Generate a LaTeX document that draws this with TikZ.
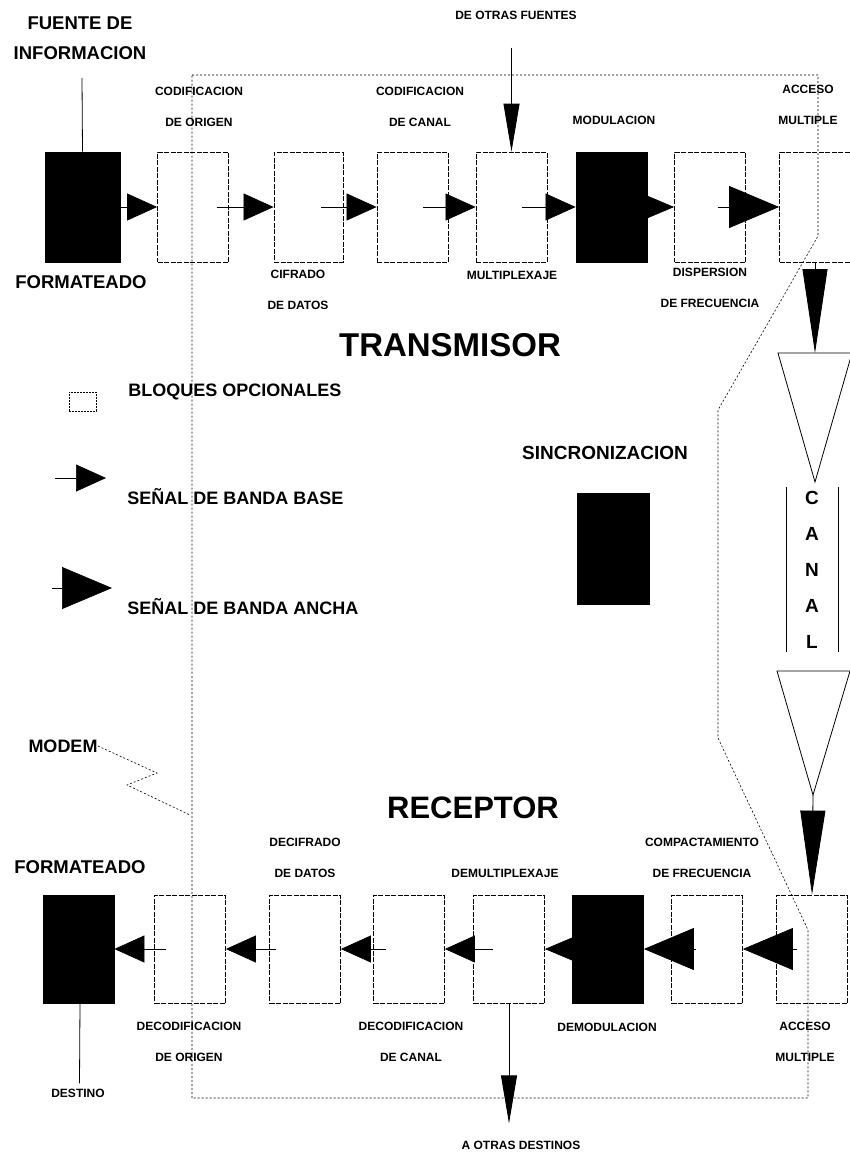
\documentclass[tikz,border=0pt]{standalone}
\usepackage{fontspec}
\setmainfont{Liberation Sans}
\usetikzlibrary{arrows.meta, positioning, calc}
\tikzset{
    blkbox/.style={rectangle, draw=black, fill=black, minimum width=71pt, minimum height=110pt, inner sep=0pt},
    optbox/.style={rectangle, draw=black, line width=0.8pt, dash pattern=on 5pt off 1.5pt, minimum width=71pt, minimum height=110pt, inner sep=0pt},
    small/.style={font=\bfseries\fontsize{12}{31}\selectfont, align=center, inner sep=0pt},
    large/.style={font=\bfseries\fontsize{18.5}{30}\selectfont, align=center, inner sep=0pt},
    title/.style={font=\bfseries\fontsize{33}{36}\selectfont, inner sep=0pt},
    bband/.style={line width=0.7pt, -{Triangle[length=30pt,width=27pt]}},
    wband/.style={line width=0.7pt, -{Triangle[length=50pt,width=42pt]}},
    nband/.style={line width=0.8pt, -{Triangle[length=48pt,width=16pt]}},
    cband/.style={line width=0.8pt, -{Triangle[length=84pt,width=25pt]}},
    mdmline/.style={line width=0.6pt, dash pattern=on 2pt off 2pt}
}
\begin{document}
\begin{tikzpicture}[x=1pt, y=-1pt, line width=0.8pt]
        \useasboundingbox[fill=white] (0,0) rectangle (850,1154);

        % Modem boundary
        \draw[mdmline] (192,75) -- (818,75) -- (818,236) -- (718,410) -- (718,738) -- (808,930) -- (808,1098) -- (192,1098) -- cycle;

        % Transmitter blocks
        \node (fmtt) at (82.5,207) [blkbox, minimum width=75pt] {};
        \node (codo) at (193,207) [optbox] {};
        \node (cif) at (308.5,207) [optbox, minimum width=69pt] {};
        \node (codc) at (412.5,207) [optbox] {};
        \node (mux) at (511.5,207) [optbox] {};
        \node (mod) at (611.5,207) [blkbox] {};
        \node (disp) at (710,207) [optbox] {};
        \node (amt) at (815,207) [optbox] {};

        % Receiver blocks
        \node (fmtr) at (78.5,949) [blkbox, minimum height=108pt] {};
        \node (dcodo) at (190,949) [optbox, minimum height=108pt] {};
        \node (dcif) at (305,949) [optbox, minimum height=108pt] {};
        \node (dcodc) at (409,949) [optbox, minimum height=108pt] {};
        \node (dmux) at (509,949) [optbox, minimum height=108pt] {};
        \node (dmod) at (608,949) [blkbox, minimum height=108pt] {};
        \node (comp) at (707,949) [optbox, minimum height=108pt] {};
        \node (amr) at (812,949) [optbox, minimum height=108pt] {};

        % Sync
        \node (sync) at (605,453) [font=\bfseries\fontsize{19}{22}\selectfont, inner sep=0pt] {SINCRONIZACION};
        \node (syncbox) at (613,548.5) [blkbox, minimum width=72pt, minimum height=111pt] {};

        % Labels, transmitter
        \node (src) at (80,38) [large] {FUENTE DE\\INFORMACION};
        \node (fmttl) at (81,282) [large] {FORMATEADO};
        \node (lcodo) at (199,106.5) [small] {CODIFICACION\\DE ORIGEN};
        \node (lcif) at (298,290) [small] {CIFRADO\\DE DATOS};
        \node (lcodc) at (420,106.5) [small] {CODIFICACION\\DE CANAL};
        \node (lmux) at (512,275) [small] {MULTIPLEXAJE};
        \node (lmod) at (614,120) [small] {MODULACION};
        \node (ldisp) at (710,288) [small] {DISPERSION\\DE FRECUENCIA};
        \node (lamt) at (808,105) [small] {ACCESO\\MULTIPLE};
        \node (othsrc) at (516,15) [small] {DE OTRAS FUENTES};
        \node (tx) at (450,345) [title] {TRANSMISOR};

        % Labels, receiver
        \node (rx) at (473,808) [title, font=\bfseries\fontsize{31}{34}\selectfont] {RECEPTOR};
        \node (fmtrl) at (80,867) [large] {FORMATEADO};
        \node (ldcif) at (305,857.5) [small] {DECIFRADO\\DE DATOS};
        \node (ldmux) at (505,873) [small] {DEMULTIPLEXAJE};
        \node (lcomp) at (702,857.5) [small] {COMPACTAMIENTO\\DE FRECUENCIA};
        \node (ldcodo) at (189,1041.5) [small] {DECODIFICACION\\DE ORIGEN};
        \node (ldcodc) at (411,1041.5) [small] {DECODIFICACION\\DE CANAL};
        \node (ldmod) at (607,1027) [small] {DEMODULACION};
        \node (lamr) at (805,1041.5) [small] {ACCESO\\MULTIPLE};
        \node (dest) at (78,1093) [small] {DESTINO};
        \node (othdst) at (521,1145) [small] {A OTRAS DESTINOS};

        % Legend
        \node (legbox) at (82.5,401.5) [draw, dash pattern=on 2pt off 1pt, minimum width=27pt, minimum height=19pt, inner sep=0pt] {};
        \node (legopt) at (128,392) [anchor=west, font=\bfseries\fontsize{18}{20}\selectfont, inner sep=0pt] {BLOQUES OPCIONALES};
        \node (legbb) at (127,497) [anchor=west, font=\bfseries\fontsize{18}{20}\selectfont, inner sep=0pt] {SEÑAL DE BANDA BASE};
        \node (legwb) at (127,607) [anchor=west, font=\bfseries\fontsize{18}{20}\selectfont, inner sep=0pt] {SEÑAL DE BANDA ANCHA};
        \coordinate (lgbb1) at (55,478);
        \coordinate (lgbb2) at (106,478);
        \coordinate (lgwb1) at (52,588);
        \coordinate (lgwb2) at (112,588);
        \draw[bband] (lgbb1) -- (lgbb2);
        \draw[wband] (lgwb1) -- (lgwb2);

        % Modem
        \node (modem) at (63,746) [font=\bfseries\fontsize{18}{20}\selectfont, inner sep=0pt] {MODEM};
        \draw[mdmline] (modem.east) -- (157,773) -- (127,785) -- (190,815);

        % Channel
        \coordinate (chin) at (815,353);
        \coordinate (chout) at (813,795);
        \draw (778,353) -- (852,353) -- (chin |- 0,482) -- cycle;
        \draw (777,671) -- (850,671) -- (chout) -- cycle;
        \draw (786,487) -- (786,652);
        \draw (838,487) -- (838,652);
        \node (canal) at (812,570) [align=center, font=\bfseries\fontsize{19}{36}\selectfont, inner sep=0pt] {C\\A\\N\\A\\L};
        \draw[cband] (amt.south) -- (chin);
        \draw[cband] (chout) -- (amr.north);

        % Transmitter signal flow
        \draw (src.south) ++(2,18) -- (fmtt.north);
        \draw[bband] (fmtt.east) -- (codo.west);
        \draw[bband] ([xshift=-12pt]codo.east) -- (cif.west);
        \draw[bband] ([xshift=-22pt]cif.east) -- (codc.west);
        \draw[bband] ([xshift=-25pt]codc.east) -- (mux.west);
        \draw[bband] ([xshift=-25pt]mux.east) -- (mod.west);
        \draw[wband] ([xshift=-30pt]mod.east) -- (disp.west);
        \draw[wband] ([xshift=-28pt]disp.east) -- (amt.west);
        \draw[nband, shorten <=28pt] (othsrc.south -| mux.north) -- (mux.north);

        % Receiver signal flow
        \draw[wband] ([xshift=21pt]amr.west) -- (comp.east);
        \draw[wband] ([xshift=25pt]comp.west) -- (dmod.east);
        \draw[wband] ([xshift=30pt]dmod.west) -- (dmux.east);
        \draw[bband] ([xshift=20pt]dmux.west) -- (dcodc.east);
        \draw[bband] ([xshift=13pt]dcodc.west) -- (dcif.east);
        \draw[bband] ([xshift=7pt]dcif.west) -- (dcodo.east);
        \draw[bband] ([xshift=12pt]dcodo.west) -- (fmtr.east);
        \draw[nband, shorten >=17pt] (dmux.south) -- (dmux.south |- othdst.north);
        \draw ([xshift=1.5pt]fmtr.south) -- ([xshift=1.5pt,yshift=5pt]dest.north);
    \end{tikzpicture}
\end{document}
